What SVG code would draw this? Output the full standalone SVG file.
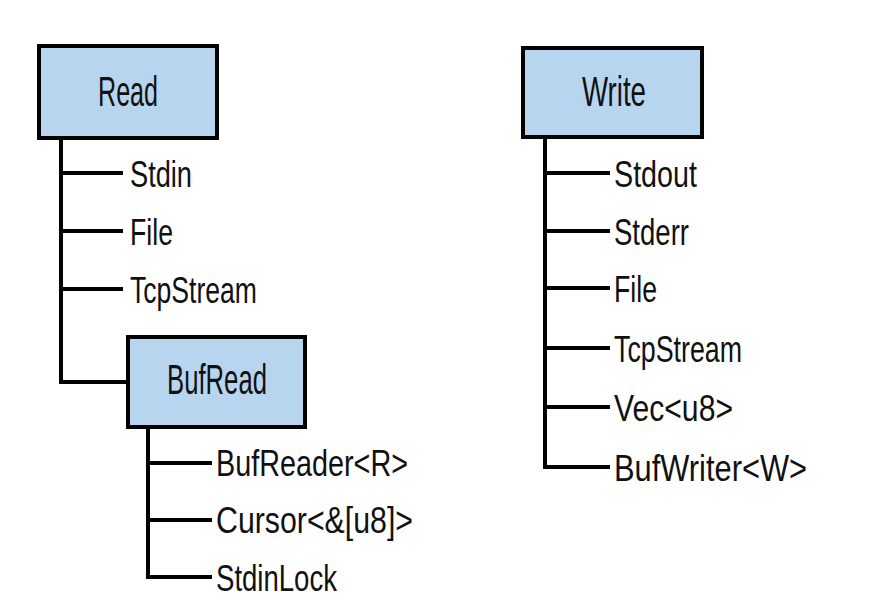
<svg xmlns="http://www.w3.org/2000/svg" width="881" height="612" viewBox="0 0 881 612">
<style>
.box{fill:#b7d5ee;stroke:#000;stroke-width:4}
.title{font-family:"Liberation Sans",Arial,sans-serif;font-size:42px;fill:#111;text-anchor:middle}
.item{font-family:"Liberation Sans",Arial,sans-serif;font-size:36px;fill:#111}
.ln{stroke:#000;stroke-width:4;fill:none}
</style>
<rect width="881" height="612" fill="#fff"/>
<g id="connectors">
<path class="ln" d="M61 138V382H128M61 173H123M61 231H123M61 289H123"/>
<path class="ln" d="M148 427V577H212M148 463H212M148 520H212"/>
<path class="ln" d="M545 137V467H610M545 173H610M545 231H610M545 288H610M545 348H610M545 407H610"/>
</g>
<g id="read"><rect class="box" x="39" y="46" width="178" height="92"/><text class="title" x="128" y="106" textLength="60" lengthAdjust="spacingAndGlyphs">Read</text></g>
<g id="stdin"><text class="item" x="130" y="187" textLength="62" lengthAdjust="spacingAndGlyphs">Stdin</text></g>
<g id="file-r"><text class="item" x="130" y="245" textLength="43" lengthAdjust="spacingAndGlyphs">File</text></g>
<g id="tcp-r"><text class="item" x="130" y="303" textLength="127" lengthAdjust="spacingAndGlyphs">TcpStream</text></g>
<g id="bufread"><rect class="box" x="128" y="337" width="177" height="90"/><text class="title" x="217" y="394" textLength="100" lengthAdjust="spacingAndGlyphs">BufRead</text></g>
<g id="bufreader"><text class="item" x="216" y="476" textLength="192" lengthAdjust="spacingAndGlyphs">BufReader&lt;R&gt;</text></g>
<g id="cursor"><text class="item" x="216" y="533" textLength="197" lengthAdjust="spacingAndGlyphs">Cursor&lt;&amp;[u8]&gt;</text></g>
<g id="stdinlock"><text class="item" x="216" y="591" textLength="121" lengthAdjust="spacingAndGlyphs">StdinLock</text></g>
<g id="write"><rect class="box" x="523" y="48" width="179" height="89"/><text class="title" x="614" y="106" textLength="64" lengthAdjust="spacingAndGlyphs">Write</text></g>
<g id="stdout"><text class="item" x="614" y="187" textLength="83" lengthAdjust="spacingAndGlyphs">Stdout</text></g>
<g id="stderr"><text class="item" x="614" y="245" textLength="75" lengthAdjust="spacingAndGlyphs">Stderr</text></g>
<g id="file-w"><text class="item" x="614" y="302" textLength="43" lengthAdjust="spacingAndGlyphs">File</text></g>
<g id="tcp-w"><text class="item" x="614" y="362" textLength="128" lengthAdjust="spacingAndGlyphs">TcpStream</text></g>
<g id="vec"><text class="item" x="614" y="421" textLength="119" lengthAdjust="spacingAndGlyphs">Vec&lt;u8&gt;</text></g>
<g id="bufwriter"><text class="item" x="614" y="481" textLength="193" lengthAdjust="spacingAndGlyphs">BufWriter&lt;W&gt;</text></g>
</svg>
